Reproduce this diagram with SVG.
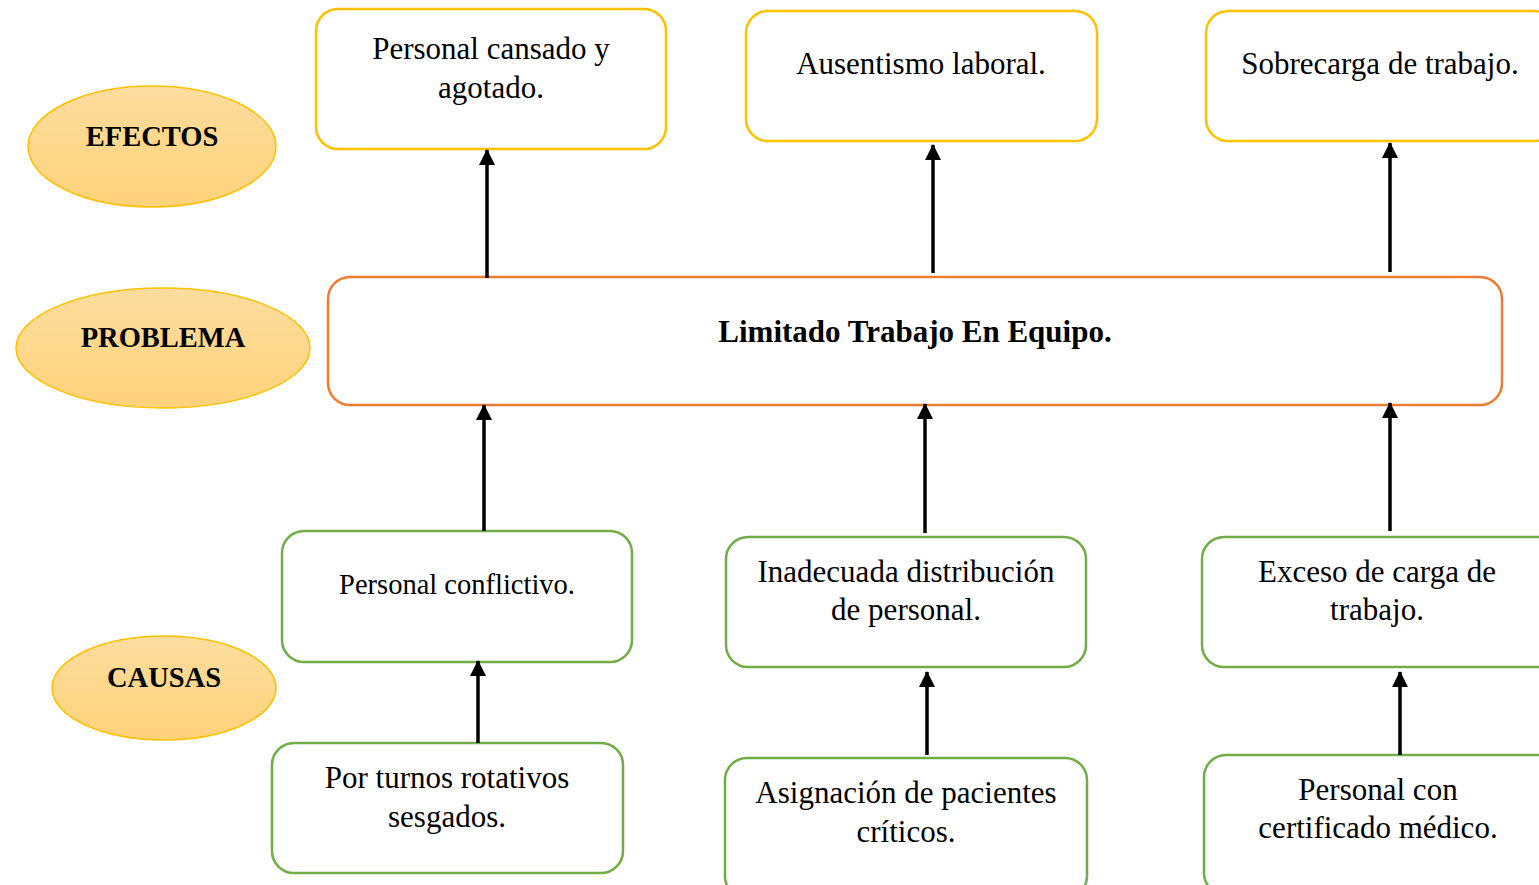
<svg xmlns="http://www.w3.org/2000/svg" width="1539" height="885" viewBox="0 0 1539 885">
<style>
.eff{fill:#fff;stroke:#FFC000;stroke-width:2.5}
.prob{fill:#fff;stroke:#ED7D31;stroke-width:2.5}
.cau{fill:#fff;stroke:#70AD47;stroke-width:2.5}
.ell{fill:url(#g);stroke:#FFC000;stroke-width:1.5}
.t{font-family:"Liberation Serif","Times New Roman",serif;font-size:31px;fill:#000;text-anchor:middle}
.l{font-size:28.5px}
.b{font-weight:bold}
.c{stroke:#000;stroke-width:3.5;fill:none;marker-end:url(#ah)}
</style>
<defs>
<linearGradient id="g" x1="0" y1="0" x2="0" y2="1">
<stop offset="0" stop-color="#FCDD9E"/>
<stop offset="1" stop-color="#FFD27A"/>
</linearGradient>
<marker id="ah" markerUnits="userSpaceOnUse" markerWidth="16" markerHeight="18" refX="15" refY="8" orient="auto">
<path d="M0,0 L16,8 L0,16 Z" fill="#000"/>
</marker>
</defs>
<rect width="1539" height="885" fill="#fff"/>
<g id="labels">
<g id="lbl-efectos"><ellipse class="ell" cx="152" cy="146.5" rx="124" ry="60.5"/><text class="t l b" x="152" y="146">EFECTOS</text></g>
<g id="lbl-problema"><ellipse class="ell" cx="163" cy="348" rx="147" ry="60"/><text class="t l b" x="163" y="347">PROBLEMA</text></g>
<g id="lbl-causas"><ellipse class="ell" cx="164" cy="688" rx="112" ry="52"/><text class="t l b" x="164" y="687">CAUSAS</text></g>
</g>
<g id="effects">
<g id="e1"><rect class="eff" x="316" y="9" width="350" height="140" rx="22"/><text class="t" x="491" y="59">Personal cansado y</text><text class="t" x="491" y="98">agotado.</text></g>
<g id="e2"><rect class="eff" x="746" y="11" width="351" height="130" rx="22"/><text class="t" x="921" y="74">Ausentismo laboral.</text></g>
<g id="e3"><rect class="eff" x="1206" y="11" width="350" height="130" rx="22"/><text class="t" x="1380" y="74">Sobrecarga de trabajo.</text></g>
</g>
<g id="problem"><rect class="prob" x="328" y="277" width="1174" height="128" rx="22"/><text class="t b" x="915" y="342">Limitado Trabajo En Equipo.</text></g>
<g id="causes">
<g id="c1"><rect class="cau" x="282" y="531" width="350" height="131" rx="22"/><text class="t l" x="457" y="594">Personal conflictivo.</text></g>
<g id="c2"><rect class="cau" x="726" y="537" width="360" height="130" rx="22"/><text class="t" x="906" y="582">Inadecuada distribución</text><text class="t" x="906" y="620">de personal.</text></g>
<g id="c3"><rect class="cau" x="1202" y="537" width="360" height="130" rx="22"/><text class="t" x="1377" y="582">Exceso de carga de</text><text class="t" x="1377" y="620">trabajo.</text></g>
<g id="c4"><rect class="cau" x="272" y="743" width="351" height="130" rx="22"/><text class="t" x="447" y="788">Por turnos rotativos</text><text class="t" x="447" y="827">sesgados.</text></g>
<g id="c5"><rect class="cau" x="725" y="758" width="362" height="140" rx="22"/><text class="t" x="906" y="803">Asignación de pacientes</text><text class="t" x="906" y="842">críticos.</text></g>
<g id="c6"><rect class="cau" x="1204" y="755" width="360" height="140" rx="22"/><text class="t" x="1378" y="800">Personal con</text><text class="t" x="1378" y="838">certificado médico.</text></g>
</g>
<g id="connectors">
<line class="c" x1="487" y1="278" x2="487" y2="150"/>
<line class="c" x1="933" y1="273" x2="933" y2="145"/>
<line class="c" x1="1390" y1="272" x2="1390" y2="143"/>
<line class="c" x1="484" y1="531" x2="484" y2="405"/>
<line class="c" x1="925" y1="533" x2="925" y2="404"/>
<line class="c" x1="1390" y1="531" x2="1390" y2="403"/>
<line class="c" x1="478" y1="743" x2="478" y2="661"/>
<line class="c" x1="927" y1="755" x2="927" y2="672"/>
<line class="c" x1="1400" y1="755" x2="1400" y2="672"/>
</g>
</svg>
